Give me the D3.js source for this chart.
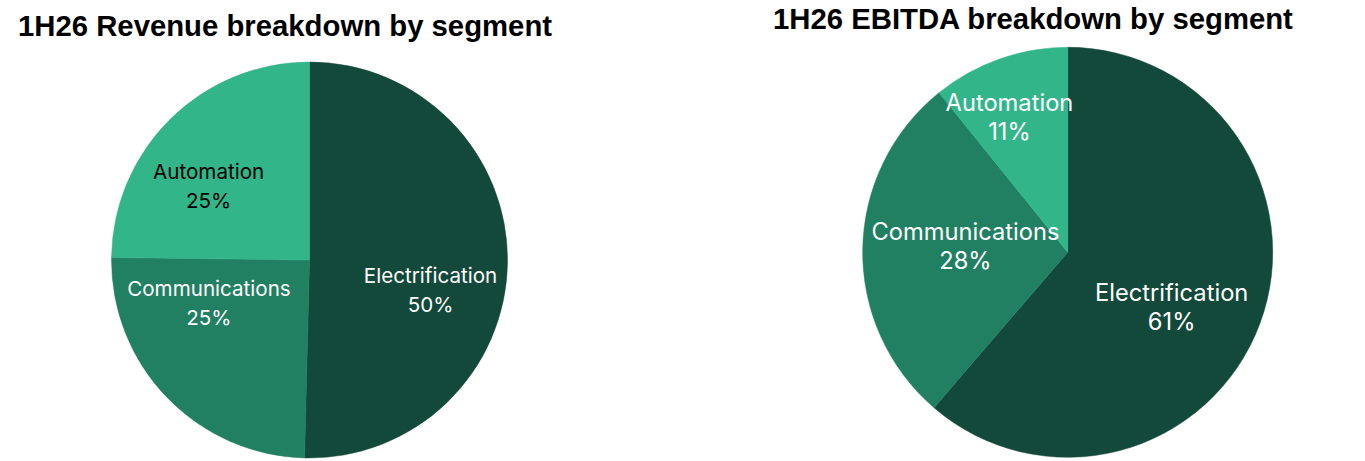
<!DOCTYPE html>
<html>
<head>
<meta charset="utf-8">
<script src="https://cdn.jsdelivr.net/npm/d3@7"></script>
<style>
  html, body { margin: 0; padding: 0; background: #ffffff; }
  svg { display: block; }
</style>
</head>
<body>
<svg id="chart" width="1365" height="461"></svg>
<script>
// ---- data ----
const segments = ["Electrification", "Communications", "Automation"];
const revenueShare = [50.4, 24.8, 24.8];
const revenueLabels = ["50%", "25%", "25%"];
const ebitdaShare = [61.3, 27.9, 10.8];
const ebitdaLabels = ["61%", "28%", "11%"];
const titles = ["1H26 Revenue breakdown by segment", "1H26 EBITDA breakdown by segment"];

// ---- styles / layout ----
const colors = ["#12493a", "#218062", "#33b58a"];
const panels = [
  { values: revenueShare, labels: revenueLabels, title: titles[0],
    cx: 309.5, cy: 260, r: 198, titleX: 18, titleY: 36,
    font: "Inter", fontSize: 20.6, lineGap: 29,
    labelColor: ["#ffffff", "#ffffff", "#000000"],
    labelPolar: [{ da: 13.3, f: 0.63 }, { da: 20.6, f: 0.553 }, { da: -9.3, f: 0.63 }] },
  { values: ebitdaShare, labels: ebitdaLabels, title: titles[1],
    cx: 1067.7, cy: 252.3, r: 205, titleX: 773, titleY: 29,
    font: "Inter", fontSize: 23.7, lineGap: 29,
    labelColor: ["#ffffff", "#ffffff", "#ffffff"],
    labelPolar: [{ da: 7.6, f: 0.574 }, { da: 2.7, f: 0.5 }, { da: -3.8, f: 0.72 }] }
];

const svg = d3.select("#chart");

panels.forEach(p => {
  svg.append("text")
    .attr("x", p.titleX)
    .attr("y", p.titleY)
    .attr("font-family", "Liberation Sans, Arial, sans-serif")
    .attr("font-weight", "bold")
    .attr("font-size", 29.3)
    .attr("fill", "#000")
    .text(p.title);

  const g = svg.append("g").attr("transform", `translate(${p.cx},${p.cy})`);
  const pie = d3.pie().sort(null).value(d => d.v);
  const arcs = pie(p.values.map((v, i) => ({ v, i, name: segments[i], label: p.labels[i] })));
  const arc = d3.arc().innerRadius(0).outerRadius(p.r);

  g.selectAll("path.slice").data(arcs).enter().append("path")
    .attr("class", "slice")
    .attr("d", arc)
    .attr("fill", d => colors[d.data.i])
    .attr("stroke", d => colors[d.data.i])
    .attr("stroke-width", 0.5);

  const lbl = g.selectAll("text.lbl").data(arcs).enter().append("text")
    .attr("class", "lbl")
    .attr("text-anchor", "middle")
    .attr("font-family", p.font + ", sans-serif")
    .attr("font-size", p.fontSize)
    .attr("fill", d => p.labelColor[d.data.i])
    .attr("transform", d => {
      const lp = p.labelPolar[d.data.i];
      const a = (d.startAngle + d.endAngle) / 2 + lp.da * Math.PI / 180;
      const rr = lp.f * p.r;
      return `translate(${rr * Math.sin(a)},${-rr * Math.cos(a)})`;
    });
  lbl.append("tspan").attr("x", 0).attr("y", -p.lineGap / 2).attr("dy", "0.36em").text(d => d.data.name);
  lbl.append("tspan").attr("x", 0).attr("y", p.lineGap / 2).attr("dy", "0.36em").text(d => d.data.label);
});
</script>
</body>
</html>
